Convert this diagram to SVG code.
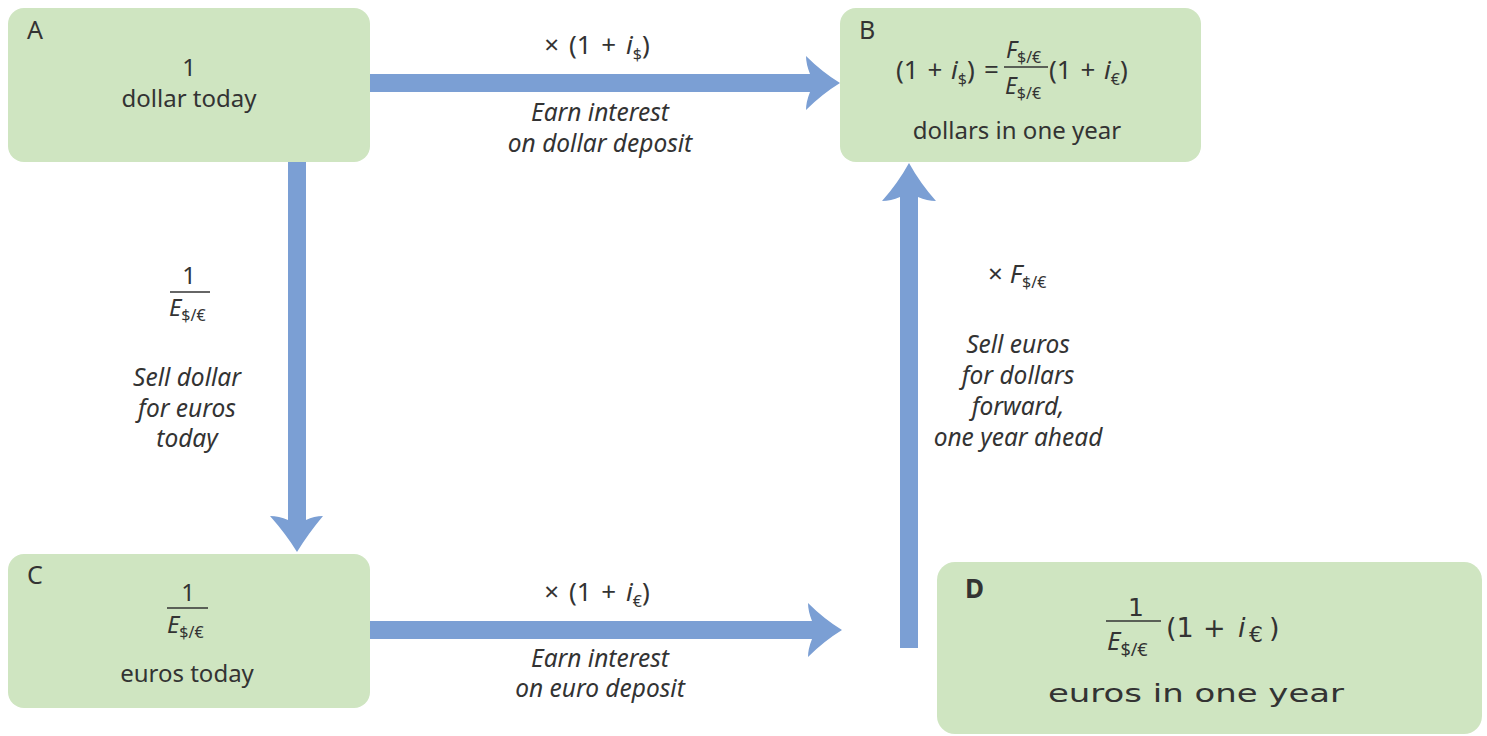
<svg xmlns="http://www.w3.org/2000/svg" width="1487" height="736" viewBox="0 0 1487 736">
<style>
.box{fill:#cfe5c1;}
.arr{fill:#7b9fd4;}
text{font-family:"Noto Sans","Open Sans",sans-serif;fill:#333;}
.t{font-size:24px;text-anchor:middle;}
.m{font-size:26px;}
.lab{font-size:25px;}
.it{font-style:italic;font-size:24.5px;text-anchor:middle;}
.sub{font-size:16px;}
.frac{stroke:#333;stroke-width:1.5;}
.big{font-family:"DejaVu Sans",sans-serif;font-size:25px;text-anchor:middle;fill:#333;}
.dj{font-family:"DejaVu Sans",sans-serif;font-size:27px;}
</style>
<rect width="1487" height="736" fill="#fff"/>
<g id="connectors">
  <path class="arr" d="M370,74 H810 Q806,64 806,56 Q822,72 840,83 Q822,94 806,110 Q806,102 810,92 H370 Z"/>
  <path class="arr" d="M370,621 H812 Q808,611 808,603 Q824,619 842,630 Q824,641 808,657 Q808,649 812,639 H370 Z"/>
  <path class="arr" d="M288,162 V520 Q279,516 270,516 Q286,534 297,552 Q308,534 323,516 Q314,516 306,520 V162 Z"/>
  <path class="arr" d="M900,648 V197 Q891,201 882,201 Q898,183 909,163 Q920,183 936,201 Q927,201 918,197 V648 Z"/>
</g>
<g id="label-AB">
  <text class="m" x="597" y="54" text-anchor="middle" word-spacing="3">× (1 + <tspan font-style="italic">i</tspan><tspan class="sub" dy="6">$</tspan><tspan dy="-6">)</tspan></text>
  <text class="it" x="600" y="121">Earn interest</text>
  <text class="it" x="600" y="152">on dollar deposit</text>
</g>
<g id="label-CD">
  <text class="m" x="597" y="601" text-anchor="middle" word-spacing="3">× (1 + <tspan font-style="italic">i</tspan><tspan class="sub" dy="6">€</tspan><tspan dy="-6">)</tspan></text>
  <text class="it" x="600" y="667">Earn interest</text>
  <text class="it" x="600" y="697">on euro deposit</text>
</g>
<g id="label-AC">
  <text class="t" x="189" y="284">1</text>
  <line class="frac" x1="170" y1="292" x2="210" y2="292"/>
  <text x="169" y="316" font-size="24" font-style="italic">E<tspan class="sub" font-style="normal" dy="5">$/€</tspan></text>
  <text class="it" x="187" y="386">Sell dollar</text>
  <text class="it" x="187" y="417">for euros</text>
  <text class="it" x="187" y="447">today</text>
</g>
<g id="label-DB">
  <text class="m" x="988" y="283">× <tspan font-style="italic">F</tspan><tspan class="sub" dy="5">$/€</tspan></text>
  <text class="it" x="1018" y="353">Sell euros</text>
  <text class="it" x="1018" y="384">for dollars</text>
  <text class="it" x="1018" y="415">forward,</text>
  <text class="it" x="1018" y="446">one year ahead</text>
</g>
<g id="node-A">
  <rect class="box" x="8" y="8" width="362" height="154" rx="16"/>
  <text class="lab" x="27" y="39">A</text>
  <text class="t" x="189" y="76">1</text>
  <text class="t" x="189" y="107">dollar today</text>
</g>
<g id="node-B">
  <rect class="box" x="840" y="8" width="361" height="154" rx="16"/>
  <text class="lab" x="859" y="39">B</text>
  <text class="m" x="896" y="79" word-spacing="2">(1 + <tspan font-style="italic">i</tspan><tspan class="sub" dy="6">$</tspan><tspan dy="-6">)</tspan><tspan x="984">=</tspan></text>
  <text x="1006" y="58" font-size="23" font-style="italic">F<tspan class="sub" font-style="normal" dy="5">$/€</tspan></text>
  <line class="frac" x1="1004" y1="67" x2="1048" y2="67"/>
  <text x="1005" y="94" font-size="23" font-style="italic">E<tspan class="sub" font-style="normal" dy="5">$/€</tspan></text>
  <text class="m" x="1049" y="79" word-spacing="2">(1 + <tspan font-style="italic">i</tspan><tspan class="sub" dy="6">€</tspan><tspan dy="-6">)</tspan></text>
  <text class="t" x="1017" y="139">dollars in one year</text>
</g>
<g id="node-C">
  <rect class="box" x="8" y="554" width="362" height="154" rx="16"/>
  <text class="lab" x="27" y="584">C</text>
  <text class="t" x="188" y="601">1</text>
  <line class="frac" x1="167" y1="608" x2="208" y2="608"/>
  <text x="167" y="633" font-size="24" font-style="italic">E<tspan class="sub" font-style="normal" dy="5">$/€</tspan></text>
  <text class="t" x="187" y="682">euros today</text>
</g>
<g id="node-D">
  <rect class="box" x="937" y="562" width="545" height="172" rx="18"/>
  <text x="965" y="598" font-family="DejaVu Sans,sans-serif" font-size="26" font-weight="bold" fill="#444">D</text>
  <text class="big" x="1136" y="616">1</text>
  <line class="frac" x1="1106" y1="621" x2="1161" y2="621"/>
  <text x="1107" y="650" font-family="DejaVu Sans,sans-serif" font-size="26" font-style="italic">E<tspan font-size="18" font-style="normal" dy="6">$/€</tspan></text>
  <text class="dj" y="637"><tspan x="1166">(1</tspan><tspan x="1203">+</tspan><tspan x="1238" font-style="italic">i</tspan><tspan x="1249" font-size="22" dy="5">€</tspan><tspan x="1269" dy="-5">)</tspan></text>
  <text class="big" x="1196" y="702" textLength="296" lengthAdjust="spacingAndGlyphs">euros in one year</text>
</g>
</svg>
